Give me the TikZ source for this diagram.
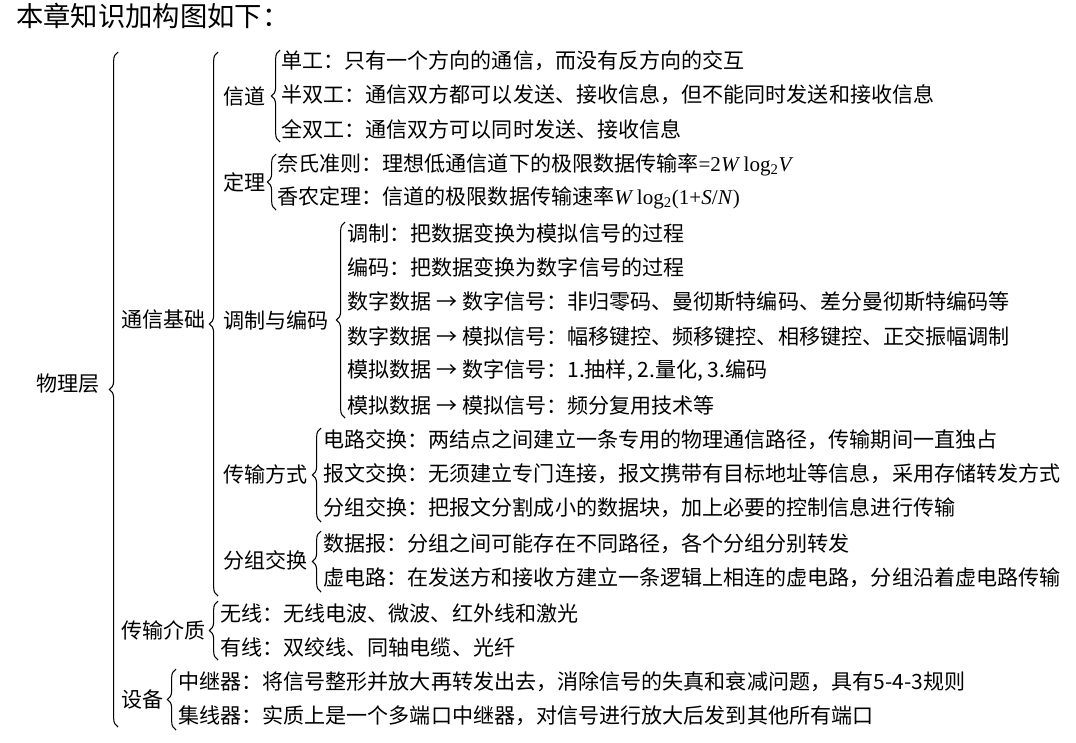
\documentclass[tikz,border=0pt]{standalone}
\usepackage{fontspec}
\setmainfont{Noto Sans CJK SC}
\newfontfamily\tnr{Liberation Serif}
\usetikzlibrary{decorations.pathreplacing}
\begin{document}
\begin{tikzpicture}[x=0.75pt,y=-0.75pt,
  txt/.style={anchor=west,inner sep=0pt,font=\fontsize{15.8}{16}\selectfont},
  br/.style={decorate,decoration={brace,amplitude=6.5pt},line width=0.8pt}]
\useasboundingbox (0,0) rectangle (1076,743);
\node[txt,font=\fontsize{20.5}{21}\selectfont] (title) at (16,16) {本章知识加构图如下：};
% category labels
\node[txt] (wl) at (36,384) {物理层};
\node[txt] (txjc) at (121,320) {通信基础};
\node[txt] (xd) at (223,96) {信道};
\node[txt] (dl) at (223,182) {定理};
\node[txt] (tzbm) at (223,320) {调制与编码};
\node[txt] (csfs) at (223,474) {传输方式};
\node[txt] (fzjh) at (223,560) {分组交换};
\node[txt] (csjz) at (121,630) {传输介质};
\node[txt] (sb) at (121,699) {设备};
% leaves
\node[txt] (l1) at (281,61) {单工：只有一个方向的通信，而没有反方向的交互};
\node[txt] (l2) at (281,95) {半双工：通信双方都可以发送、接收信息，但不能同时发送和接收信息};
\node[txt] (l3) at (281,129) {全双工：通信双方可以同时发送、接收信息};
\node[txt] (l4) at (277,165) {奈氏准则：理想低通信道下的极限数据传输率{\tnr =2\textit{W}\,log\textsubscript{2}\textit{V}}};
\node[txt] (l5) at (277,198) {香农定理：信道的极限数据传输速率{\tnr \textit{W}\,log\textsubscript{2}(1+\textit{S}/\textit{N})}};
\node[txt] (l6) at (347,233) {调制：把数据变换为模拟信号的过程};
\node[txt] (l7) at (347,267) {编码：把数据变换为数字信号的过程};
\node[txt] (l8) at (347,302) {数字数据 → 数字信号：非归零码、曼彻斯特编码、差分曼彻斯特编码等};
\node[txt] (l9) at (347,336) {数字数据 → 模拟信号：幅移键控、频移键控、相移键控、正交振幅调制};
\node[txt] (l10) at (347,371) {模拟数据 → 数字信号：1.抽样, 2.量化, 3.编码};
\node[txt] (l11) at (347,405) {模拟数据 → 模拟信号：频分复用技术等};
\node[txt] (l12) at (323,440) {电路交换：两结点之间建立一条专用的物理通信路径，传输期间一直独占};
\node[txt] (l13) at (323,474) {报文交换：无须建立专门连接，报文携带有目标地址等信息，采用存储转发方式};
\node[txt] (l14) at (323,508) {分组交换：把报文分割成小的数据块，加上必要的控制信息进行传输};
\node[txt] (l15) at (323,544) {数据报：分组之间可能存在不同路径，各个分组分别转发};
\node[txt] (l16) at (323,578) {虚电路：在发送方和接收方建立一条逻辑上相连的虚电路，分组沿着虚电路传输};
\node[txt] (l17) at (220,613) {无线：无线电波、微波、红外线和激光};
\node[txt] (l18) at (220,647) {有线：双绞线、同轴电缆、光纤};
\node[txt] (l19) at (178,682) {中继器：将信号整形并放大再转发出去，消除信号的失真和衰减问题，具有5-4-3规则};
\node[txt] (l20) at (178,716) {集线器：实质上是一个多端口中继器，对信号进行放大后发到其他所有端口};
% brace ends
\coordinate (b1t) at (118,52);  \coordinate (b1b) at (118,727);
\coordinate (b2t) at (218,52);  \coordinate (b2b) at (218,596);
\coordinate (b3t) at (280,50);  \coordinate (b3b) at (280,142);
\coordinate (b4t) at (276,154); \coordinate (b4b) at (276,210);
\coordinate (b5t) at (345,222); \coordinate (b5b) at (345,418);
\coordinate (b6t) at (321,428); \coordinate (b6b) at (321,522);
\coordinate (b7t) at (321,531); \coordinate (b7b) at (321,592);
\coordinate (b8t) at (218,601); \coordinate (b8b) at (218,660);
\coordinate (b9t) at (176,669); \coordinate (b9b) at (176,730);
\foreach \i in {1,...,9} \draw[br] (b\i b) -- (b\i t);
\end{tikzpicture}
\end{document}
